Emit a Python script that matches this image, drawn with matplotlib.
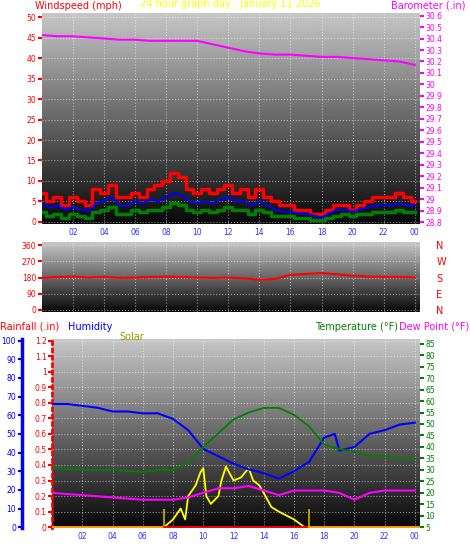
import numpy as np
import matplotlib
matplotlib.use('Agg')
import matplotlib.pyplot as plt

# ---- data ----
hours_half = np.arange(0, 24.5, 0.5)
wind_gust = [7, 5, 6, 4, 6, 5, 4, 8, 7, 9, 6, 6, 7, 6, 8, 9, 10, 12, 11, 8, 7, 8, 7, 8, 9,
             7, 8, 6, 8, 6, 5, 4, 4, 3, 3, 2, 2, 3, 4, 4, 3, 4, 5, 6, 6, 6, 7, 6, 5]
wind_avg = [4.5, 3.5, 4, 3, 3.5, 3, 2.5, 4.5, 5, 6, 4, 4, 5, 4.5, 5.5, 5, 6, 7, 6.5, 5, 4.5, 5, 4.5, 5.5, 6,
            5, 5, 4, 5, 4, 3, 2.5, 2.5, 2, 2, 1.5, 1, 2, 3, 3, 2.5, 3, 3.5, 4, 4, 4, 4.5, 4, 4]
wind_speed = [2.5, 1.5, 2, 1, 2, 1.5, 1, 2.5, 3, 3.5, 2, 2, 3, 2.5, 3, 3, 3.5, 4.5, 4, 3, 2.5, 3, 2.5, 3, 3.5,
              3, 3, 2, 3, 2.5, 1.5, 1.5, 1.5, 1, 1, 0.5, 0.5, 1, 1.5, 2, 1.5, 2, 2, 2.5, 2.5, 2.5, 3, 2.5, 2.5]

hours = np.arange(0, 25)
baro = [30.43, 30.42, 30.42, 30.41, 30.40, 30.39, 30.39, 30.38, 30.38, 30.38, 30.38, 30.35, 30.32,
        30.29, 30.27, 30.26, 30.26, 30.25, 30.24, 30.24, 30.23, 30.22, 30.21, 30.20, 30.17]
wind_dir = [178, 182, 185, 180, 183, 178, 180, 182, 185, 183, 180, 178, 180, 175, 168, 172, 195,
            200, 205, 198, 190, 185, 183, 182, 180]

hum_t = [0, 1, 2, 3, 4, 5, 6, 7, 8, 9, 10, 11, 12, 13, 14, 15, 16, 17, 18, 18.7, 19, 20, 21, 22, 23, 24]
humidity = [66, 66, 65, 64, 62, 62, 61, 61, 58, 52, 42, 38, 34, 31, 29, 26, 30, 35, 48, 50, 41, 43,
            50, 52, 55, 56]
temp_t = [0, 2, 4, 6, 7, 8, 9, 10, 11, 12, 13, 14, 15, 16, 17, 18, 19, 20, 21, 22, 23, 24]
temperature = [31, 30, 30, 29, 30, 30, 33, 40, 46, 52, 55, 57, 57, 54, 49, 41, 39, 38, 36, 36, 35, 35]
dew_t = [0, 2, 4, 6, 8, 9, 10, 11, 12, 13, 14, 15, 16, 17, 18, 19, 20, 21, 22, 23, 24]
dewpoint = [20, 19, 18, 17, 17, 18, 20, 22, 22, 23, 21, 19, 21, 21, 21, 20, 17, 20, 21, 21, 21]
solar_t = [7.4, 8, 8.5, 8.8, 9, 9.5, 9.8, 10, 10.2, 10.5, 11, 11.2, 11.5, 12, 12.5, 13, 13.3, 13.7,
           14, 14.5, 15, 16, 16.7, 17]
solar = [0, 0.05, 0.12, 0.05, 0.2, 0.27, 0.35, 0.38, 0.2, 0.15, 0.2, 0.3, 0.39, 0.3, 0.32, 0.38,
         0.3, 0.27, 0.22, 0.13, 0.1, 0.05, 0, 0]
sun_marks = [7.4, 17]
xtick_hours = [2, 4, 6, 8, 10, 12, 14, 16, 18, 20, 22, 24]
xtick_labels = ['02', '04', '06', '08', '10', '12', '14', '16', '18', '20', '22', '00']

fig = plt.figure(figsize=(4.7, 5.54), dpi=100, facecolor='white')
grad = np.linspace(0.78, 0.03, 256).reshape(-1, 1)


def background(ax, ylim):
    ax.imshow(grad, aspect='auto', cmap='gray', vmin=0, vmax=1,
              extent=[0, 24.32, ylim[0], ylim[1]], zorder=0)
    ax.set_xlim(0, 24.32)
    ax.set_ylim(*ylim)
    ax.grid(color='white', linestyle=':', linewidth=0.8, alpha=0.5)
    ax.set_xticks(xtick_hours)
    for s in ax.spines.values():
        s.set_visible(False)


def small(ax, color, side='left'):
    ax.tick_params(axis='y', colors=color, labelsize=5.5, length=3, width=1.5, pad=1)
    ax.yaxis.set_ticks_position(side)

# ---- wind + barometer ----
ax1 = fig.add_axes([0.089, 0.596, 0.804, 0.38])
background(ax1, (-0.5, 51))
ax1.set_yticks(range(0, 51, 5))
ax1.set_xticklabels(xtick_labels)
ax1.tick_params(axis='x', colors='#3030ff', labelsize=5.5, length=0, pad=3)
small(ax1, 'red')
ax1.step(hours_half, wind_gust, where='mid', color='red', lw=2.5, zorder=3)
ax1.step(hours_half, wind_speed, where='mid', color='green', lw=2.5, zorder=4)
ax1.plot(hours_half, wind_avg, color='blue', lw=1.5, zorder=5)
ax1b = ax1.twinx()
ax1b.set_ylim(28.785, 30.62)
baro_ticks = np.round(np.arange(28.8, 30.61, 0.1), 1)
ax1b.set_yticks(baro_ticks)
ax1b.set_yticklabels([('%g' % v) for v in baro_ticks])
small(ax1b, 'magenta', 'right')
for s in ax1b.spines.values():
    s.set_visible(False)
ax1b.plot(hours, baro, color='magenta', lw=1.5)

fig.text(0.075, 0.99, 'Windspeed (mph)', color='red', fontsize=7, va='center')
fig.text(0.49, 0.993, '24 hour graph day : January 11 2026', color='yellow', fontsize=7,
         va='center', ha='center')
fig.text(0.99, 0.99, 'Barometer (.in)', color='magenta', fontsize=7, va='center', ha='right')

# ---- wind direction ----
ax2 = fig.add_axes([0.089, 0.437, 0.804, 0.126])
background(ax2, (-11, 377))
ax2.set_yticks([0, 90, 180, 270, 360])
ax2.set_xticklabels([])
ax2.tick_params(axis='x', length=0)
small(ax2, 'red')
ax2.plot(hours, wind_dir, color='red', lw=1.5)
ax2b = ax2.twinx()
ax2b.set_ylim(-11, 377)
ax2b.set_yticks([0, 90, 180, 270, 360])
ax2b.set_yticklabels(['N', 'E', 'S', 'W', 'N'])
ax2b.tick_params(axis='y', colors='red', labelsize=7, length=0, pad=12)
for s in ax2b.spines.values():
    s.set_visible(False)

# ---- rainfall / humidity / temperature ----
ax3 = fig.add_axes([0.111, 0.047, 0.782, 0.341])
background(ax3, (-0.005, 1.21))
rain_ticks = np.round(np.arange(0, 1.21, 0.1), 1)
ax3.set_yticks(rain_ticks)
ax3.set_yticklabels([('%g' % v) for v in rain_ticks])
ax3.set_xticklabels(xtick_labels)
ax3.tick_params(axis='x', colors='#3030ff', labelsize=5.5, length=0, pad=3)
small(ax3, 'red')
ax3.spines['left'].set_visible(True)
ax3.spines['left'].set_color('red')
ax3.spines['left'].set_linestyle(':')
ax3.spines['left'].set_linewidth(2)
ax3.plot(solar_t, solar, color='yellow', lw=1.3, zorder=4)
ax3.vlines(sun_marks, 0, 0.12, color='#c8b400', lw=1.2, zorder=4)
ax3.plot([0, 7.4], [0, 0], color='orange', lw=2, zorder=5)
ax3.plot([7.4, 17], [0, 0], color='red', lw=2, zorder=5)
ax3.plot([17, 24.32], [0, 0], color='orange', lw=2, zorder=5)

ax3h = ax3.twinx()
ax3h.set_ylim(-0.4, 100.8)
ax3h.yaxis.set_ticks_position('left')
ax3h.spines['left'].set_position(('outward', 22))
for s in ['top', 'bottom', 'right']:
    ax3h.spines[s].set_visible(False)
ax3h.spines['left'].set_color('blue')
ax3h.spines['left'].set_linewidth(2.5)
ax3h.set_yticks(range(0, 101, 10))
small(ax3h, 'blue')
ax3h.plot(hum_t, humidity, color='blue', lw=1.5)

ax3t = ax3.twinx()
ax3t.set_ylim(4.7, 87)
for s in ax3t.spines.values():
    s.set_visible(False)
ax3t.set_yticks(range(5, 86, 5))
small(ax3t, 'green', 'right')
ax3t.plot(temp_t, temperature, color='green', lw=1.3)
ax3t.plot(dew_t, dewpoint, color='magenta', lw=1.5)

fig.text(0.0, 0.41, 'Rainfall (.in)', color='red', fontsize=7, va='center')
fig.text(0.145, 0.41, 'Humidity', color='blue', fontsize=7, va='center')
fig.text(0.255, 0.392, 'Solar', color='#9a9a00', fontsize=7, va='center')
fig.text(0.67, 0.41, 'Temperature (°F)', color='green', fontsize=7, va='center')
fig.text(0.998, 0.41, 'Dew Point (°F)', color='magenta', fontsize=7, va='center', ha='right')

fig.savefig('out.png', dpi=100)
